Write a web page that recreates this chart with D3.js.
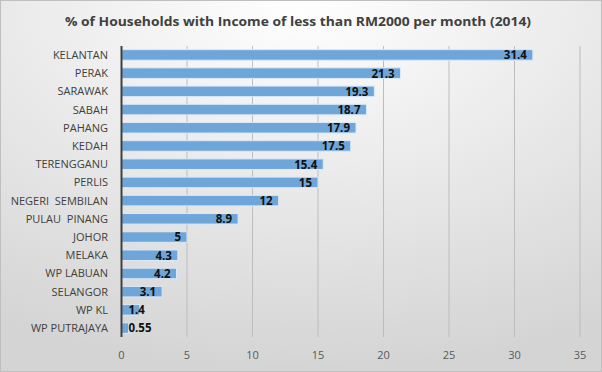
<!DOCTYPE html>
<html>
<head>
<meta charset="utf-8">
<script src="https://cdn.jsdelivr.net/npm/d3@7"></script>
<style>
  body { margin: 0; }
  #chart { width: 602px; height: 372px; }
</style>
</head>
<body>
<div id="chart"></div>
<script>
const states = ["KELANTAN", "PERAK", "SARAWAK", "SABAH", "PAHANG", "KEDAH", "TERENGGANU", "PERLIS",
  "NEGERI  SEMBILAN", "PULAU  PINANG", "JOHOR", "MELAKA", "WP LABUAN", "SELANGOR", "WP KL", "WP PUTRAJAYA"];
const pct = [31.4, 21.3, 19.3, 18.7, 17.9, 17.5, 15.4, 15, 12, 8.9, 5, 4.3, 4.2, 3.1, 1.4, 0.55];
const ticks = [0, 5, 10, 15, 20, 25, 30, 35];

const W = 602, H = 372;
const m = { top: 46, right: 22, bottom: 35, left: 121.5 };

const svg = d3.select("#chart").append("svg")
  .attr("width", W).attr("height", H);

// background gradient like the excel chart area
const grad = svg.append("defs").append("radialGradient")
  .attr("id", "bg").attr("cx", "50%").attr("cy", "0%").attr("r", "100%")
  .attr("gradientUnits", "objectBoundingBox");
grad.append("stop").attr("offset", "0%").attr("stop-color", "#ffffff");
grad.append("stop").attr("offset", "100%").attr("stop-color", "#d4d4d4");

svg.append("rect")
  .attr("x", 0.5).attr("y", 0.5).attr("width", W - 1).attr("height", H - 1)
  .attr("fill", "url(#bg)").attr("stroke", "#bfbfbf");

svg.append("text")
  .attr("x", W / 2 - 3).attr("y", 26)
  .attr("text-anchor", "middle")
  .style("font-family", "'Open Sans', sans-serif")
  .style("font-weight", "bold").style("font-size", "13px")
  .attr("fill", "#404040")
  .attr("textLength", 466).attr("lengthAdjust", "spacingAndGlyphs")
  .text("% of Households with Income of less than RM2000 per month (2014)");

const x = d3.scaleLinear().domain([0, 35]).range([m.left, W - m.right]);
const y = d3.scaleBand().domain(states).range([m.top, H - m.bottom]).paddingInner(0.42).paddingOuter(0.2);

const g = svg.append("g");

// gridlines
g.selectAll(".grid").data(ticks.slice(1)).enter().append("line")
  .attr("x1", d => x(d)).attr("x2", d => x(d))
  .attr("y1", m.top).attr("y2", H - m.bottom)
  .attr("stroke", "#bdbdbd").attr("stroke-width", 1);

// tick labels
g.selectAll(".tick").data(ticks).enter().append("text")
  .attr("x", d => x(d)).attr("y", 359)
  .attr("text-anchor", "middle")
  .style("font-family", "'Open Sans', sans-serif").style("font-size", "11px")
  .attr("fill", "#595959")
  .text(d => d);

// bars
g.selectAll(".bar").data(pct).enter().append("rect")
  .attr("x", x(0))
  .attr("y", (d, i) => y(states[i]))
  .attr("width", d => x(d) - x(0))
  .attr("height", y.bandwidth())
  .attr("fill", "#6fa6da")
  .attr("stroke", "#dce9f6").attr("stroke-width", 1);

// axis line
g.append("line")
  .attr("x1", x(0)).attr("x2", x(0))
  .attr("y1", m.top).attr("y2", H - m.bottom)
  .attr("stroke", "#404040").attr("stroke-width", 2);

// category labels
g.selectAll(".cat").data(states).enter().append("text")
  .attr("x", 108).attr("y", d => y(d) + y.bandwidth() / 2)
  .attr("dy", "0.36em").attr("text-anchor", "end")
  .style("font-family", "'Open Sans', sans-serif").style("font-size", "11px")
  .style("white-space", "pre")
  .attr("fill", "#404040")
  .text(d => d);

// value labels
const vals = g.selectAll(".val").data(pct).enter().append("text")
  .attr("y", (d, i) => y(states[i]) + y.bandwidth() / 2)
  .attr("dy", "0.38em")
  .style("font-family", "'Open Sans', sans-serif").style("font-size", "11.5px")
  .style("font-weight", "bold")
  .attr("fill", "#111")
  .text(d => d);

vals.each(function (d) {
  const w = this.getComputedTextLength();
  let left = x(d) - 6 - w;
  if (left < x(0) + 7) left = x(0) + 7;
  d3.select(this).attr("x", left);
});
</script>
</body>
</html>
